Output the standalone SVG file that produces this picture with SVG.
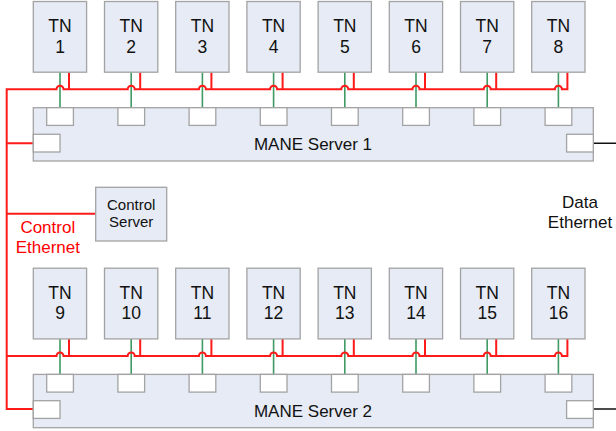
<svg xmlns="http://www.w3.org/2000/svg" width="616" height="431" viewBox="0 0 616 431">
  <style>
    .box { fill: #e6ebf5; stroke: #a3a3a3; stroke-width: 1.3; }
    .port { fill: #ffffff; stroke: #a3a3a3; stroke-width: 1.3; }
    .lbl { font-family: "Liberation Sans", Arial, sans-serif; font-size: 17px; fill: #111; text-anchor: middle; }
    .tn { font-size: 17.5px; }
    .small { font-size: 15px; }
    .ctl { fill: #ff0000; }
    .red { fill: none; stroke: #ff1a1a; stroke-width: 2; }
    .green { fill: none; stroke: #3f9a63; stroke-width: 1.6; }
    .blk { fill: none; stroke: #111; stroke-width: 1.6; }
  </style>
  <rect width="616" height="431" fill="#ffffff"/>

  <!-- connectors -->
  <g id="connectors">
    <!-- green data links from each TN to its server port -->
    <g class="green">
      <path d="M60 72.2V107.7M131.2 72.2V107.7M202.4 72.2V107.7M273.6 72.2V107.7M344.8 72.2V107.7M416 72.2V107.7M487.2 72.2V107.7M558.4 72.2V107.7"/>
      <path d="M60 338.9V374.4M131.2 338.9V374.4M202.4 338.9V374.4M273.6 338.9V374.4M344.8 338.9V374.4M416 338.9V374.4M487.2 338.9V374.4M558.4 338.9V374.4"/>
    </g>
    <!-- control ethernet -->
    <g class="red">
      <path d="M33.3 409H6.7V89.3H56.5a3.5 3.5 0 0 1 7 0H127.7a3.5 3.5 0 0 1 7 0H198.9a3.5 3.5 0 0 1 7 0H270.1a3.5 3.5 0 0 1 7 0H341.3a3.5 3.5 0 0 1 7 0H412.5a3.5 3.5 0 0 1 7 0H483.7a3.5 3.5 0 0 1 7 0H554.9a3.5 3.5 0 0 1 7 0H567.4V72.2"/>
      <path d="M6.7 356H56.5a3.5 3.5 0 0 1 7 0H127.7a3.5 3.5 0 0 1 7 0H198.9a3.5 3.5 0 0 1 7 0H270.1a3.5 3.5 0 0 1 7 0H341.3a3.5 3.5 0 0 1 7 0H412.5a3.5 3.5 0 0 1 7 0H483.7a3.5 3.5 0 0 1 7 0H554.9a3.5 3.5 0 0 1 7 0H567.4V338.9"/>
      <path d="M69 72.2V89.3M140.2 72.2V89.3M211.4 72.2V89.3M282.6 72.2V89.3M353.8 72.2V89.3M425 72.2V89.3M496.2 72.2V89.3"/>
      <path d="M69 338.9V356M140.2 338.9V356M211.4 338.9V356M282.6 338.9V356M353.8 338.9V356M425 338.9V356M496.2 338.9V356"/>
      <path d="M6.7 143.3H33.3M6.7 213.7H95.7"/>
    </g>
    <!-- data ethernet -->
    <path class="blk" d="M593.3 143.3H616M593.3 409H616"/>
  </g>

  <!-- top row of TNs -->
  <g id="tn1"><rect class="box" x="33.3" y="1.5" width="53.3" height="70.7"/><text class="lbl tn" x="60" y="32.3">TN</text><text class="lbl tn" x="60" y="52.6">1</text></g>
  <g id="tn2"><rect class="box" x="104.5" y="1.5" width="53.3" height="70.7"/><text class="lbl tn" x="131.2" y="32.3">TN</text><text class="lbl tn" x="131.2" y="52.6">2</text></g>
  <g id="tn3"><rect class="box" x="175.7" y="1.5" width="53.3" height="70.7"/><text class="lbl tn" x="202.4" y="32.3">TN</text><text class="lbl tn" x="202.4" y="52.6">3</text></g>
  <g id="tn4"><rect class="box" x="246.9" y="1.5" width="53.3" height="70.7"/><text class="lbl tn" x="273.6" y="32.3">TN</text><text class="lbl tn" x="273.6" y="52.6">4</text></g>
  <g id="tn5"><rect class="box" x="318.1" y="1.5" width="53.3" height="70.7"/><text class="lbl tn" x="344.8" y="32.3">TN</text><text class="lbl tn" x="344.8" y="52.6">5</text></g>
  <g id="tn6"><rect class="box" x="389.3" y="1.5" width="53.3" height="70.7"/><text class="lbl tn" x="416" y="32.3">TN</text><text class="lbl tn" x="416" y="52.6">6</text></g>
  <g id="tn7"><rect class="box" x="460.5" y="1.5" width="53.3" height="70.7"/><text class="lbl tn" x="487.2" y="32.3">TN</text><text class="lbl tn" x="487.2" y="52.6">7</text></g>
  <g id="tn8"><rect class="box" x="531.7" y="1.5" width="53.3" height="70.7"/><text class="lbl tn" x="558.4" y="32.3">TN</text><text class="lbl tn" x="558.4" y="52.6">8</text></g>

  <!-- MANE server 1 -->
  <g id="mane1">
    <rect class="box" x="33.3" y="107.7" width="560" height="53.3"/>
    <rect class="port" x="46.7" y="107.7" width="26.7" height="17.7"/>
    <rect class="port" x="117.9" y="107.7" width="26.7" height="17.7"/>
    <rect class="port" x="189.1" y="107.7" width="26.7" height="17.7"/>
    <rect class="port" x="260.3" y="107.7" width="26.7" height="17.7"/>
    <rect class="port" x="331.5" y="107.7" width="26.7" height="17.7"/>
    <rect class="port" x="402.7" y="107.7" width="26.7" height="17.7"/>
    <rect class="port" x="473.9" y="107.7" width="26.7" height="17.7"/>
    <rect class="port" x="545.1" y="107.7" width="26.7" height="17.7"/>
    <rect class="port" x="33.3" y="134.3" width="26.7" height="17.7"/>
    <rect class="port" x="566.6" y="134.3" width="26.7" height="17.7"/>
    <text class="lbl" x="313" y="149.6">MANE Server 1</text>
  </g>

  <!-- control server -->
  <g id="control-server">
    <rect class="box" x="95.7" y="187.3" width="71" height="53.7"/>
    <text class="lbl small" x="131.2" y="210">Control</text>
    <text class="lbl small" x="131.2" y="227.3">Server</text>
  </g>

  <g id="control-ethernet-label">
    <text class="lbl ctl" x="47.8" y="233.2">Control</text>
    <text class="lbl ctl" x="47.8" y="252.8">Ethernet</text>
  </g>

  <g id="data-ethernet-label">
    <text class="lbl" x="580" y="208.3">Data</text>
    <text class="lbl" x="580" y="228.3">Ethernet</text>
  </g>

  <!-- bottom row of TNs -->
  <g id="tn9"><rect class="box" x="33.3" y="268.2" width="53.3" height="70.7"/><text class="lbl tn" x="60" y="298.8">TN</text><text class="lbl tn" x="60" y="319">9</text></g>
  <g id="tn10"><rect class="box" x="104.5" y="268.2" width="53.3" height="70.7"/><text class="lbl tn" x="131.2" y="298.8">TN</text><text class="lbl tn" x="131.2" y="319">10</text></g>
  <g id="tn11"><rect class="box" x="175.7" y="268.2" width="53.3" height="70.7"/><text class="lbl tn" x="202.4" y="298.8">TN</text><text class="lbl tn" x="202.4" y="319">11</text></g>
  <g id="tn12"><rect class="box" x="246.9" y="268.2" width="53.3" height="70.7"/><text class="lbl tn" x="273.6" y="298.8">TN</text><text class="lbl tn" x="273.6" y="319">12</text></g>
  <g id="tn13"><rect class="box" x="318.1" y="268.2" width="53.3" height="70.7"/><text class="lbl tn" x="344.8" y="298.8">TN</text><text class="lbl tn" x="344.8" y="319">13</text></g>
  <g id="tn14"><rect class="box" x="389.3" y="268.2" width="53.3" height="70.7"/><text class="lbl tn" x="416" y="298.8">TN</text><text class="lbl tn" x="416" y="319">14</text></g>
  <g id="tn15"><rect class="box" x="460.5" y="268.2" width="53.3" height="70.7"/><text class="lbl tn" x="487.2" y="298.8">TN</text><text class="lbl tn" x="487.2" y="319">15</text></g>
  <g id="tn16"><rect class="box" x="531.7" y="268.2" width="53.3" height="70.7"/><text class="lbl tn" x="558.4" y="298.8">TN</text><text class="lbl tn" x="558.4" y="319">16</text></g>

  <!-- MANE server 2 -->
  <g id="mane2">
    <rect class="box" x="33.3" y="374.4" width="560" height="53.3"/>
    <rect class="port" x="46.7" y="374.4" width="26.7" height="17.7"/>
    <rect class="port" x="117.9" y="374.4" width="26.7" height="17.7"/>
    <rect class="port" x="189.1" y="374.4" width="26.7" height="17.7"/>
    <rect class="port" x="260.3" y="374.4" width="26.7" height="17.7"/>
    <rect class="port" x="331.5" y="374.4" width="26.7" height="17.7"/>
    <rect class="port" x="402.7" y="374.4" width="26.7" height="17.7"/>
    <rect class="port" x="473.9" y="374.4" width="26.7" height="17.7"/>
    <rect class="port" x="545.1" y="374.4" width="26.7" height="17.7"/>
    <rect class="port" x="33.3" y="400.7" width="26.7" height="17.7"/>
    <rect class="port" x="566.6" y="400.7" width="26.7" height="17.7"/>
    <text class="lbl" x="313" y="416.5">MANE Server 2</text>
  </g>
</svg>
